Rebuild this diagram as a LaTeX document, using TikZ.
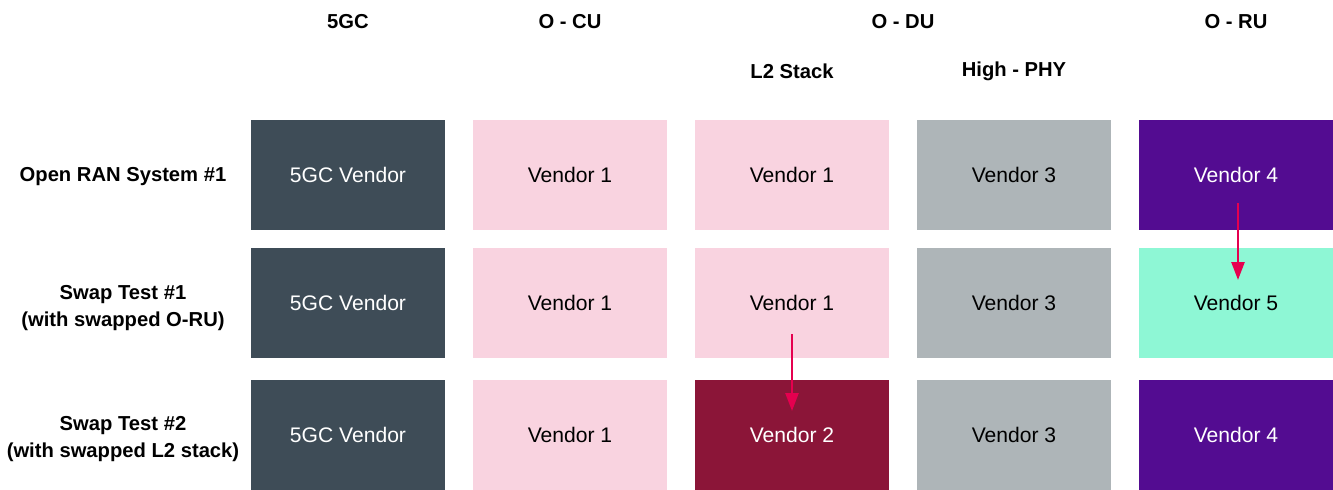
\documentclass[tikz,border=0pt]{standalone}
\usepackage{fontspec}
\setmainfont{Liberation Sans}
\usetikzlibrary{arrows.meta}

\definecolor{coregrey}{HTML}{3E4C57}
\definecolor{cupink}{HTML}{F9D3E0}
\definecolor{phygrey}{HTML}{AEB5B8}
\definecolor{rupurple}{HTML}{530C91}
\definecolor{rumint}{HTML}{8EF7D5}
\definecolor{l2maroon}{HTML}{8B1538}
\definecolor{swapred}{HTML}{E5004F}

\begin{document}
\begin{tikzpicture}
  [x=0.02cm,y=-0.02cm,font=\fontsize{12}{15}\selectfont,
   every node/.style={inner sep=0pt},
   box/.style={rectangle,minimum width=3.9cm,minimum height=2.2cm},
   head/.style={font=\fontsize{11.5}{15}\selectfont\bfseries,align=center},
   swap/.style={draw=swapred,line width=1.4pt,-{Triangle[length=0.36cm,width=0.26cm]}}]
  \useasboundingbox (0,0) rectangle (1333,490);

  % column heads
  \node[head] (h5gc) at (348,22) {5GC};
  \node[head] (hcu)  at (570,22) {O - CU};
  \node[head] (hdu)  at (903,22) {O - DU};
  \node[head] (hru)  at (1236,22) {O - RU};
  \node[head] (hl2)  at (792,71) {L2 Stack};
  \node[head] (hphy) at (1014,71) {High - PHY};

  % row heads
  \node[head] (r1) at (123,177) {Open RAN System \#1};
  \node[head] (r2) at (123,308) {Swap Test \#1\\(with swapped O-RU)};
  \node[head] (r3) at (123,439) {Swap Test \#2\\(with swapped L2 stack)};

  % row 1
  \node[box,fill=coregrey,text=white] (a1) at (348,175) {5GC Vendor};
  \node[box,fill=cupink]   (b1) at (570,175) {Vendor 1};
  \node[box,fill=cupink]   (c1) at (792,175) {Vendor 1};
  \node[box,fill=phygrey]  (d1) at (1014,175) {Vendor 3};
  \node[box,fill=rupurple,text=white] (e1) at (1236,175) {Vendor 4};

  % row 2
  \node[box,fill=coregrey,text=white] (a2) at (348,303) {5GC Vendor};
  \node[box,fill=cupink]   (b2) at (570,303) {Vendor 1};
  \node[box,fill=cupink]   (c2) at (792,303) {Vendor 1};
  \node[box,fill=phygrey]  (d2) at (1014,303) {Vendor 3};
  \node[box,fill=rumint]   (e2) at (1236,303) {Vendor 5};

  % row 3
  \node[box,fill=coregrey,text=white] (a3) at (348,435) {5GC Vendor};
  \node[box,fill=cupink]   (b3) at (570,435) {Vendor 1};
  \node[box,fill=l2maroon,text=white] (c3) at (792,435) {Vendor 2};
  \node[box,fill=phygrey]  (d3) at (1014,435) {Vendor 3};
  \node[box,fill=rupurple,text=white] (e3) at (1236,435) {Vendor 4};

  % swaps
  \coordinate (ru0) at (1238,203);
  \coordinate (ru1) at (1238,280);
  \coordinate (l20) at (792,334);
  \coordinate (l21) at (792,411);

  \foreach \from/\to in {ru0/ru1, l20/l21}
    \draw [swap] (\from) -- (\to);

\end{tikzpicture}
\end{document}
